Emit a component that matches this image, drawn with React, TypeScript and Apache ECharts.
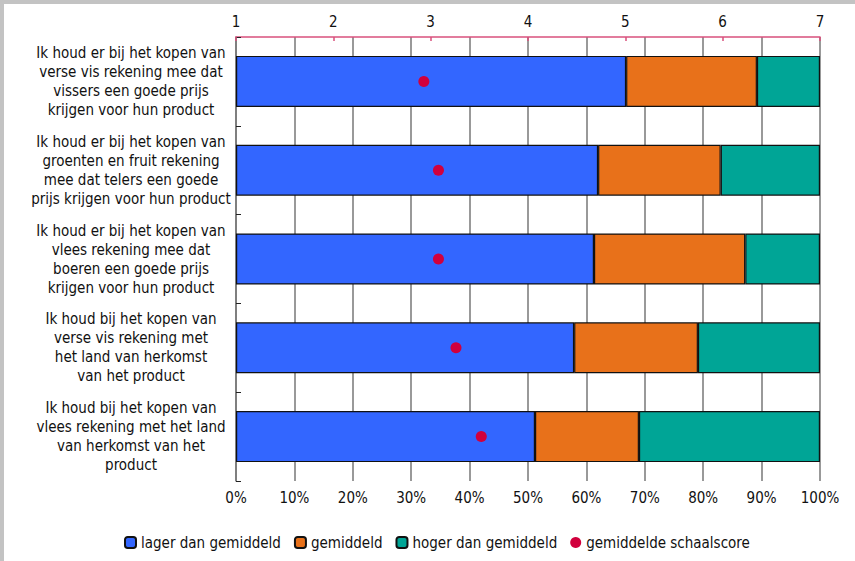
import React, { useEffect, useRef } from "react";
import * as echarts from "echarts";

const categories = [
  "Ik houd er bij het kopen van\nverse vis rekening mee dat\nvissers een goede prijs\nkrijgen voor hun product",
  "Ik houd er bij het kopen van\ngroenten en fruit rekening\nmee dat telers een goede\nprijs krijgen voor hun product",
  "Ik houd er bij het kopen van\nvlees rekening mee dat\nboeren een goede prijs\nkrijgen voor hun product",
  "Ik houd bij het kopen van\nverse vis rekening met\nhet land van herkomst\nvan het product",
  "Ik houd bij het kopen van\nvlees rekening met het land\nvan herkomst van het\nproduct",
];
const lager = [66.8, 62.0, 61.3, 57.9, 51.2];
const gemiddeld = [22.4, 21.0, 25.9, 21.2, 17.8];
const hoger = [10.8, 17.0, 12.8, 20.9, 31.0];
const schaalscore = [2.93, 3.08, 3.08, 3.26, 3.52];
const seriesNames = [
  "lager dan gemiddeld",
  "gemiddeld",
  "hoger dan gemiddeld",
  "gemiddelde schaalscore",
];

const FONT = "'Liberation Sans Narrow', 'Arial Narrow', 'DejaVu Sans Condensed', sans-serif";

export default function App() {
  const ref = useRef<HTMLDivElement>(null);
  useEffect(() => {
    if (!ref.current) return;
    const chart = echarts.init(ref.current, null, { renderer: "svg" });
    const barStyle = (color: string) => ({
      color,
      borderColor: "#111",
      borderWidth: 1.2,
    });
    chart.setOption({
      animation: false,
      textStyle: { fontFamily: FONT },
      graphic: [
        { type: "rect", shape: { x: 0, y: 0, width: 855, height: 4 }, style: { fill: "#c3c3c3" } },
        { type: "rect", shape: { x: 0, y: 0, width: 4, height: 561 }, style: { fill: "#c3c3c3" } },
      ],
      grid: { left: 236, right: 35, top: 37, bottom: 80, containLabel: false },
      legend: {
        bottom: 6,
        left: 119,
        itemWidth: 11,
        itemHeight: 11,
        itemGap: 13,
        textStyle: { fontFamily: FONT, fontSize: 15, color: "#111" },
        data: seriesNames,
      },
      xAxis: [
        {
          type: "value",
          position: "bottom",
          min: 0,
          max: 100,
          interval: 10,
          axisLabel: {
            formatter: "{value}%",
            fontFamily: FONT,
            fontSize: 15,
            color: "#111",
            margin: 9,
          },
          axisLine: { show: false },
          axisTick: { show: false },
          splitLine: { show: true, lineStyle: { color: "#777", width: 1.5 } },
        },
        {
          type: "value",
          position: "top",
          min: 1,
          max: 7,
          interval: 1,
          axisLabel: { fontFamily: FONT, fontSize: 15, color: "#111", margin: 8 },
          axisLine: { show: true, lineStyle: { color: "#d8507c", width: 1.5 } },
          axisTick: { show: true, inside: true, length: 4, lineStyle: { color: "#d8507c", width: 1.5 } },
          splitLine: { show: false },
        },
      ],
      yAxis: {
        type: "category",
        inverse: true,
        data: categories,
        axisLine: { show: true, lineStyle: { color: "#777", width: 1.5 } },
        axisTick: { show: true, inside: true, length: 5, lineStyle: { color: "#222", width: 1 } },
        axisLabel: {
          align: "center",
          margin: 105,
          fontFamily: FONT,
          fontSize: 15,
          lineHeight: 19,
          color: "#111",
        },
        splitLine: { show: false },
      },
      series: [
        {
          name: seriesNames[0],
          type: "bar",
          stack: "s",
          barWidth: 51,
          data: lager,
          itemStyle: barStyle("#3366ff"),
        },
        {
          name: seriesNames[1],
          type: "bar",
          stack: "s",
          barWidth: 51,
          data: gemiddeld,
          itemStyle: barStyle("#e8711a"),
        },
        {
          name: seriesNames[2],
          type: "bar",
          stack: "s",
          barWidth: 51,
          data: hoger,
          itemStyle: barStyle("#00a596"),
        },
        {
          name: seriesNames[3],
          type: "scatter",
          xAxisIndex: 1,
          symbol: "circle",
          symbolSize: 11,
          data: schaalscore.map((v, i) => [v, categories[i]]),
          itemStyle: { color: "#d1003d", opacity: 1 },
          z: 5,
        },
      ],
    });
    return () => chart.dispose();
  }, []);
  return (
    <div
      ref={ref}
      style={{ position: "fixed", left: 0, top: 0, width: 855, height: 561, background: "#fff" }}
    />
  );
}
